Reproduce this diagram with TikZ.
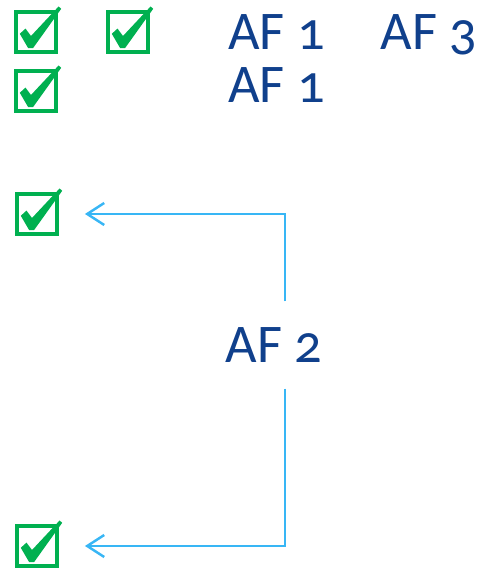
\documentclass[tikz,border=0pt]{standalone}
\usepackage{fontspec}
\setmainfont[Numbers=OldStyle]{Carlito}
\usepackage{tikz}
\usetikzlibrary{arrows.meta}
\definecolor{tickgreen}{RGB}{0,176,80}
\definecolor{afblue}{RGB}{16,64,140}
\definecolor{flowblue}{RGB}{56,182,245}
\tikzstyle{chkbox}=[draw=tickgreen, line width=1.1pt, inner sep=0pt, minimum size=0.40cm]
\tikzstyle{aflabel}=[text=afblue, inner sep=0pt, font=\fontsize{15.5}{18}\selectfont]
\tikzstyle{flow}=[draw=flowblue, line width=0.7pt, -{Straight Barb[length=1.7mm,width=2.2mm]}, shorten >=0.26cm]

\begin{document}
\begin{tikzpicture}
        \useasboundingbox (0,0) rectangle (4.81,5.70);
        \node[chkbox] (c1) at (0.36, 5.38) {};
        \node[chkbox] (c2) at (1.28, 5.38) {};
        \node[chkbox] (c3) at (0.36, 4.79) {};
        \node[chkbox] (c4) at (0.37, 3.56) {};
        \node[chkbox] (c5) at (0.37, 0.24) {};
        \foreach \n in {c1, c2, c3, c4, c5} {
            \fill[tickgreen, shift={(\n.center)}] (-0.162,-0.018) -- (-0.105,0.034) -- (-0.05,-0.04)
                -- (0.226,0.255) -- (0.252,0.232) -- (-0.03,-0.162) -- (-0.078,-0.162) -- cycle;
        }
        \node[aflabel, anchor=base] (af1a) at (2.765, 5.20) {AF 1};
        \node[aflabel, anchor=base] (af3) at (4.29, 5.20) {AF 3};
        \node[aflabel, anchor=base] (af1b) at (2.765, 4.67) {AF 1};
        \node[aflabel, minimum height=0.86cm] (af2) at (2.74, 2.25) {AF 2};
        \coordinate (bend) at (2.85, 0);
        \draw[flow] (af2.north -| bend) |- (c4.east);
        \draw[flow] (af2.south -| bend) |- (c5.east);
    \end{tikzpicture}
\end{document}
